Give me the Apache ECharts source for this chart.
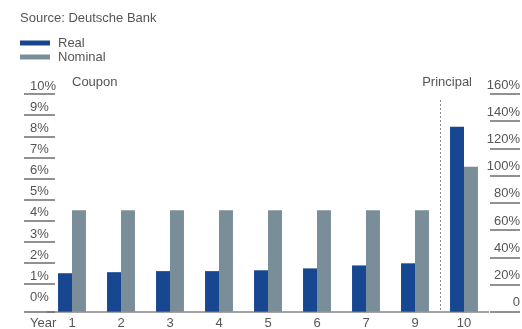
<!DOCTYPE html>
<html>
<head>
<meta charset="utf-8">
<script src="https://cdn.jsdelivr.net/npm/echarts@6/dist/echarts.min.js"></script>
<style>
  html, body { margin: 0; padding: 0; background: #ffffff; }
  #chart { width: 522px; height: 329px; }
</style>
</head>
<body>
<div id="chart"></div>
<script>
// Cash flows of an inflation-linked bond vs a nominal bond
const years = ['1', '2', '3', '4', '5', '6', '7', '9', '10'];
const realCoupon = [1.52, 1.57, 1.62, 1.62, 1.66, 1.75, 1.89, 1.99];   // % of face
const nominalCoupon = [4.5, 4.5, 4.5, 4.5, 4.5, 4.5, 4.5, 4.5];        // % of face
const realPrincipal = 136;      // % of face, final year
const nominalPrincipal = 106.5; // % of face, final year
const couponTicks = [0, 1, 2, 3, 4, 5, 6, 7, 8, 9, 10];
const principalTicks = [0, 20, 40, 60, 80, 100, 120, 140, 160];

const FONT = '"Liberation Sans", Arial, sans-serif';
const TEXT = '#555555';
const RULE = '#6e6e6e';
const REAL_COLOR = '#174790';
const NOMINAL_COLOR = '#7a8e9a';
const COUPON_MIN = -0.3;   // coupon scale sits a little above the baseline
const BAR_FRACTION = 0.285;

const principalIndex = years.indexOf('10');

// Bars grow from the bottom of the plot area up to the value on their own axis
function barRenderer(side) {
  return function (params, api) {
    const cs = params.coordSys;
    const w = api.size([1, 0])[0] * BAR_FRACTION;
    const top = api.coord([api.value(0), api.value(1)]);
    const baseY = cs.y + cs.height;
    return {
      type: 'rect',
      shape: { x: side < 0 ? top[0] - w : top[0], y: top[1], width: w, height: baseY - top[1] },
      style: api.style()
    };
  };
}

// Dotted divider on the left edge of the principal year's band
function dividerRenderer(params, api) {
  const cs = params.coordSys;
  const band = api.size([1, 0])[0];
  const c = api.coord([api.value(0), 0]);
  const x = Math.round(c[0] - band / 2) + 0.5;
  return {
    type: 'line',
    shape: { x1: x, y1: cs.y + 6, x2: x, y2: cs.y + cs.height },
    style: { stroke: '#8a8a8a', lineWidth: 1, lineDash: [2, 2] }
  };
}

const chart = echarts.init(document.getElementById('chart'), null, { renderer: 'canvas' });

chart.setOption({
  animation: false,
  backgroundColor: '#ffffff',
  textStyle: { fontFamily: FONT },
  grid: { left: 47.5, right: 33.5, top: 94, bottom: 17.3, containLabel: false, outerBoundsMode: 'none' },
  legend: {
    data: ['Real', 'Nominal'],
    orient: 'vertical',
    left: 20,
    top: 36,
    padding: 0,
    itemGap: 0,
    itemWidth: 30,
    itemHeight: 5,
    icon: 'rect',
    selectedMode: false,
    textStyle: { fontFamily: FONT, fontSize: 13, color: TEXT, lineHeight: 14, padding: [0, 0, 0, 3] }
  },
  xAxis: {
    type: 'category',
    data: years,
    boundaryGap: true,
    axisLine: { show: true, onZero: false, lineStyle: { color: '#858585', width: 1.5 } },
    axisTick: { show: false },
    axisLabel: { color: TEXT, fontSize: 13, fontFamily: FONT, margin: 5 },
    splitLine: { show: false }
  },
  yAxis: [
    {
      type: 'value',
      position: 'left',
      min: COUPON_MIN,
      max: couponTicks[couponTicks.length - 1],
      offset: -7.5,
      axisLine: { show: false },
      splitLine: { show: false },
      axisTick: {
        show: true,
        inside: false,
        length: 31,
        customValues: [COUPON_MIN].concat(couponTicks.slice(1)),
        lineStyle: { color: RULE, width: 1.5 }
      },
      axisLabel: {
        customValues: couponTicks,
        formatter: function (v) { return v + '%'; },
        align: 'left',
        verticalAlign: 'bottom',
        lineHeight: 16,
        margin: 25,
        color: TEXT,
        fontSize: 13,
        fontFamily: FONT
      }
    },
    {
      type: 'value',
      position: 'right',
      min: principalTicks[0],
      max: principalTicks[principalTicks.length - 1],
      interval: principalTicks[1] - principalTicks[0],
      offset: 1.5,
      axisLine: { show: false },
      splitLine: { show: false },
      axisTick: { show: true, inside: false, length: 30, lineStyle: { color: RULE, width: 1.5 } },
      axisLabel: {
        formatter: function (v) { return v === 0 ? '0' : v + '%'; },
        align: 'right',
        verticalAlign: 'bottom',
        lineHeight: 18,
        margin: 30,
        color: TEXT,
        fontSize: 13,
        fontFamily: FONT
      }
    }
  ],
  series: [
    {
      name: 'Real', type: 'custom', xAxisIndex: 0, yAxisIndex: 0,
      itemStyle: { color: REAL_COLOR },
      renderItem: barRenderer(-1),
      encode: { x: 0, y: 1 },
      data: realCoupon.map(function (v, i) { return [i, v]; })
    },
    {
      name: 'Nominal', type: 'custom', xAxisIndex: 0, yAxisIndex: 0,
      itemStyle: { color: NOMINAL_COLOR },
      renderItem: barRenderer(1),
      encode: { x: 0, y: 1 },
      data: nominalCoupon.map(function (v, i) { return [i, v]; })
    },
    {
      name: 'Real', type: 'custom', xAxisIndex: 0, yAxisIndex: 1,
      itemStyle: { color: REAL_COLOR },
      renderItem: barRenderer(-1),
      encode: { x: 0, y: 1 },
      data: [[principalIndex, realPrincipal]]
    },
    {
      name: 'Nominal', type: 'custom', xAxisIndex: 0, yAxisIndex: 1,
      itemStyle: { color: NOMINAL_COLOR },
      renderItem: barRenderer(1),
      encode: { x: 0, y: 1 },
      data: [[principalIndex, nominalPrincipal]]
    },
    {
      type: 'custom', xAxisIndex: 0, yAxisIndex: 1, silent: true,
      renderItem: dividerRenderer,
      encode: { x: 0, y: 1 },
      data: [[principalIndex, 0]]
    }
  ],
  graphic: [
    { type: 'text', x: 20, y: 18, style: { text: 'Source: Deutsche Bank', font: '13px ' + FONT, fill: TEXT, verticalAlign: 'middle' } },
    { type: 'text', x: 72, y: 82, style: { text: 'Coupon', font: '13px ' + FONT, fill: TEXT, verticalAlign: 'middle' } },
    { type: 'text', x: 472, y: 82, style: { text: 'Principal', font: '13px ' + FONT, fill: TEXT, align: 'right', verticalAlign: 'middle' } },
    { type: 'text', x: 30, y: 323, style: { text: 'Year', font: '13px ' + FONT, fill: TEXT, verticalAlign: 'middle' } }
  ]
});
</script>
</body>
</html>
